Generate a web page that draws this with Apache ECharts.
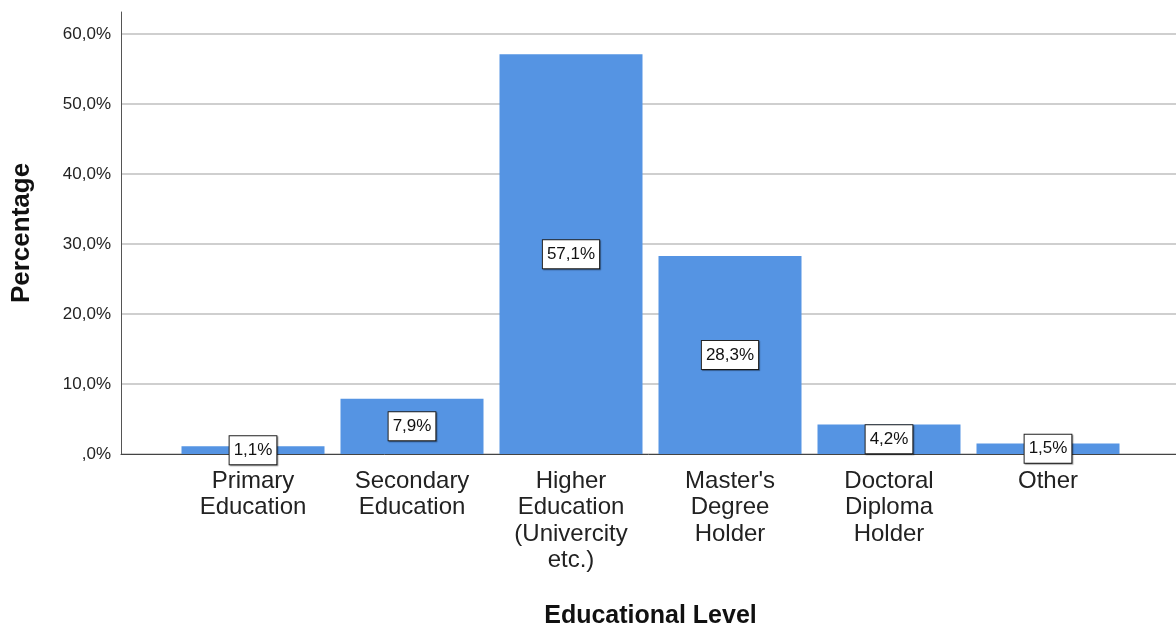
<!DOCTYPE html>
<html>
<head>
<meta charset="utf-8">
<script src="https://cdn.jsdelivr.net/npm/echarts@6/dist/echarts.min.js"></script>
<style>
html,body{margin:0;padding:0;background:#fff;}
#chart{width:1176px;height:626px;}
</style>
</head>
<body>
<div id="chart"></div>
<script>
const categories = ["Primary\nEducation", "Secondary\nEducation", "Higher\nEducation\n(Univercity\netc.)", "Master's\nDegree\nHolder", "Doctoral\nDiploma\nHolder", "Other"];
const percentages = [1.1, 7.9, 57.1, 28.3, 4.2, 1.5];
const yTicks = [0, 10, 20, 30, 40, 50, 60];
const yMax = 63.14;

function fmt(v) {
  if (v === 0) return ',0%';
  return v.toFixed(1).replace('.', ',') + '%';
}

const chart = echarts.init(document.getElementById('chart'), null, {renderer: 'canvas'});
chart.setOption({
  animation: false,
  backgroundColor: '#fff',
  textStyle: {fontFamily: 'Arial, "Liberation Sans", sans-serif'},
  grid: [
    {left: 121, right: 0, top: 12, bottom: 172, containLabel: false, outerBoundsMode: 'none'},
    {left: 173.5, right: 48.5, top: 12, bottom: 172, containLabel: false, outerBoundsMode: 'none'}
  ],
  xAxis: [
    {
      gridIndex: 0, type: 'value', min: 0, max: 1,
      axisLine: {show: true, lineStyle: {color: '#444', width: 1}},
      axisTick: {show: false}, axisLabel: {show: false}, splitLine: {show: false}
    },
    {
      gridIndex: 1, type: 'category', data: categories,
      axisLine: {show: false}, axisTick: {show: false},
      axisLabel: {
        show: true, interval: 0, margin: 14, fontSize: 24, lineHeight: 26.5,
        color: '#222', align: 'center', verticalAlign: 'top',
        fontFamily: 'Arial, "Liberation Sans", sans-serif'
      },
      name: 'Educational Level', nameLocation: 'middle', nameGap: 150,
      nameTextStyle: {fontSize: 25, fontWeight: 'bold', color: '#111', fontFamily: 'Arial, "Liberation Sans", sans-serif'}
    }
  ],
  yAxis: [
    {
      gridIndex: 0, type: 'value', min: 0, max: yMax, interval: 10,
      axisLine: {show: true, lineStyle: {color: '#555', width: 1}},
      axisTick: {show: false},
      axisLabel: {
        fontSize: 17, color: '#222', margin: 10, showMaxLabel: false,
        formatter: function (v) { return yTicks.indexOf(v) >= 0 ? fmt(v) : ''; }
      },
      splitLine: {show: true, showMaxLine: false, lineStyle: {color: '#cfcfcf', width: 2}},
      name: 'Percentage', nameLocation: 'middle', nameGap: 86, nameRotate: 90,
      nameTextStyle: {fontSize: 26, fontWeight: 'bold', color: '#111', fontFamily: 'Arial, "Liberation Sans", sans-serif'}
    },
    {
      gridIndex: 1, type: 'value', min: 0, max: yMax, show: false,
      splitLine: {show: false}
    }
  ],
  series: [{
    type: 'bar',
    xAxisIndex: 1, yAxisIndex: 1,
    data: percentages,
    barWidth: 143,
    itemStyle: {color: '#5594e3'},
    label: {
      show: true, position: 'inside',
      formatter: function (p) { return fmt(p.value); },
      fontSize: 17, color: '#111',
      backgroundColor: '#fff', borderColor: '#222', borderWidth: 1,
      padding: [6, 4, 5, 4],
      shadowColor: 'rgba(0,0,0,0.35)', shadowOffsetX: 1, shadowOffsetY: 1, shadowBlur: 1
    }
  }]
});
</script>
</body>
</html>
